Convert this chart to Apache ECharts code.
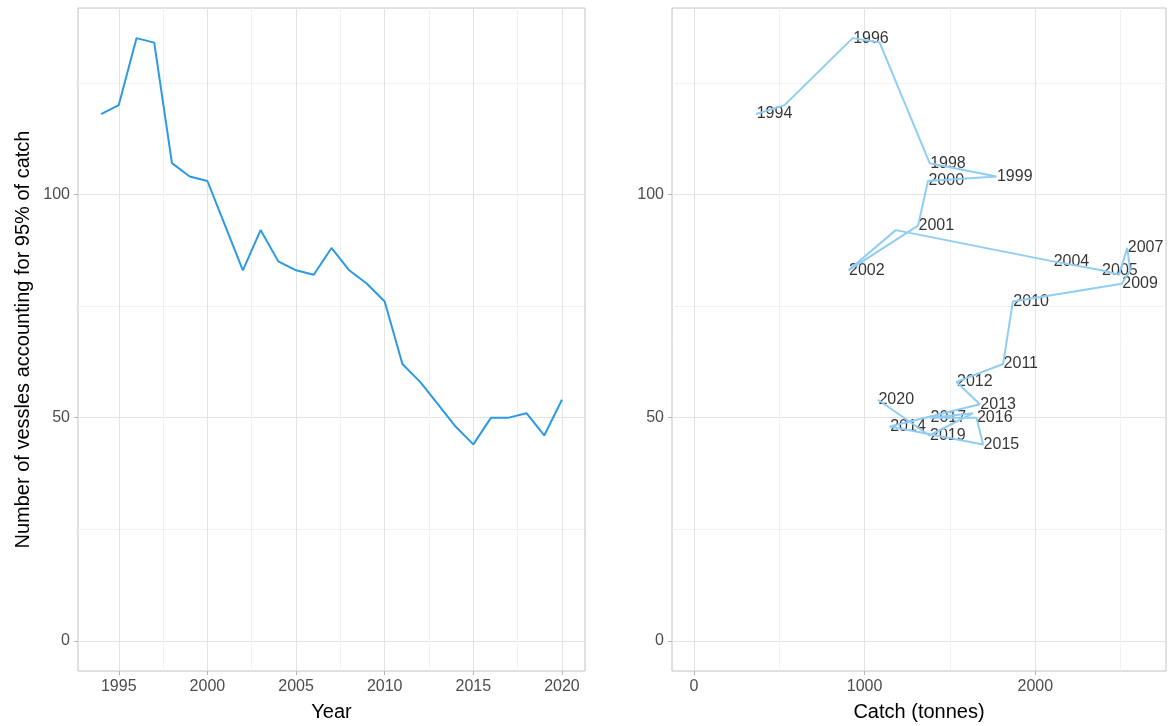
<!DOCTYPE html>
<html lang="en">
<head>
<meta charset="UTF-8">
<title>Vessels accounting for 95% of catch</title>
<script src="https://cdn.jsdelivr.net/npm/echarts@6/dist/echarts.min.js"></script>
<style>
  html, body { margin: 0; padding: 0; background: #fff; }
  #chart { width: 1170px; height: 726px; }
</style>
</head>
<body>
<div id="chart"></div>
<script>
// data
const years = [1994, 1995, 1996, 1997, 1998, 1999, 2000, 2001, 2002, 2003, 2004, 2005, 2006, 2007,
               2008, 2009, 2010, 2011, 2012, 2013, 2014, 2015, 2016, 2017, 2018, 2019, 2020];
const vessels = [118, 120, 135, 134, 107, 104, 103, 93, 83, 92, 85, 83, 82, 88,
                 83, 80, 76, 62, 58, 53, 48, 44, 50, 50, 51, 46, 54];
const catchTonnes = [365, 531, 930, 1088, 1381, 1772, 1371, 1313, 906, 1182, 2104, 2388, 2490, 2538,
                     2555, 2506, 1868, 1811, 1538, 1675, 1147, 1694, 1655, 1383, 1635, 1380, 1078];
// years whose label survives the overlap check in the original
const labelledYears = [1994, 1996, 1998, 1999, 2000, 2001, 2002, 2004, 2005, 2007, 2009, 2010,
                       2011, 2012, 2013, 2014, 2015, 2016, 2017, 2019, 2020];

const yearTicks = [1995, 2000, 2005, 2010, 2015, 2020];
const yearMinor = [1997.5, 2002.5, 2007.5, 2012.5, 2017.5];
const vesselTicks = [0, 50, 100];
const vesselMinor = [25, 75, 125];
const catchTicks = [0, 1000, 2000];
const catchMinor = [500, 1500, 2500];

const FONT = '"Liberation Sans", Arial, Helvetica, sans-serif';
const MAJOR = '#e3e3e3';
const MINOR = '#f1f1f1';
const BORDER = '#c2c2c2';

function majorAxis(grid, ticks, min, max, pos, extra) {
    return Object.assign({
        type: 'value', gridIndex: grid, min: min, max: max, position: pos,
        axisLine: { show: false, onZero: false },
        axisTick: { show: true, length: 4, lineStyle: { color: '#b3b3b3' }, customValues: ticks },
        axisLabel: {
            customValues: ticks, color: '#4d4d4d', fontSize: 16, fontFamily: FONT, margin: 8,
            formatter: v => String(v)
        },
        splitLine: { show: true, lineStyle: { color: MAJOR, width: 1 } },
        nameTextStyle: { color: '#000', fontSize: 20, fontFamily: FONT }
    }, extra || {});
}

// minor grid lines live on a second, label-less axis on the opposite side
function minorAxis(grid, ticks, min, max, pos) {
    return {
        type: 'value', gridIndex: grid, min: min, max: max, position: pos,
        axisLine: { show: false, onZero: false },
        axisTick: { show: false, customValues: ticks },
        axisLabel: { show: false, customValues: ticks },
        splitLine: { show: true, lineStyle: { color: MINOR, width: 1 } }
    };
}

const chart = echarts.init(document.getElementById('chart'));

const yMin = -6.75, yMax = 141.75;

chart.setOption({
    animation: false,
    backgroundColor: '#fff',
    grid: [
        { left: 78, right: 585, top: 8, bottom: 55, outerBoundsMode: 'none', containLabel: false,
          show: true, borderColor: BORDER, borderWidth: 1, backgroundColor: 'transparent' },
        { left: 672, right: 4, top: 8, bottom: 55, outerBoundsMode: 'none', containLabel: false,
          show: true, borderColor: BORDER, borderWidth: 1, backgroundColor: 'transparent' }
    ],
    xAxis: [
        minorAxis(0, yearMinor, 1992.7, 2021.3, 'top'),
        majorAxis(0, yearTicks, 1992.7, 2021.3, 'bottom', { name: 'Year', nameLocation: 'middle', nameGap: 31 }),
        minorAxis(1, catchMinor, -128, 2765, 'top'),
        majorAxis(1, catchTicks, -128, 2765, 'bottom', { name: 'Catch (tonnes)', nameLocation: 'middle', nameGap: 31 })
    ],
    yAxis: [
        minorAxis(0, vesselMinor, yMin, yMax, 'right'),
        majorAxis(0, vesselTicks, yMin, yMax, 'left', { name: 'Number of vessles accounting for 95% of catch', nameLocation: 'middle', nameGap: 45 }),
        minorAxis(1, vesselMinor, yMin, yMax, 'right'),
        majorAxis(1, vesselTicks, yMin, yMax, 'left')
    ],
    series: [
        {
            type: 'line',
            xAxisIndex: 1, yAxisIndex: 1,
            data: years.map((y, i) => [y, vessels[i]]),
            showSymbol: false,
            lineStyle: { color: '#2b9ae3', width: 2 },
            silent: true
        },
        {
            type: 'line',
            xAxisIndex: 3, yAxisIndex: 3,
            data: catchTonnes.map((c, i) => [c, vessels[i]]),
            showSymbol: false,
            lineStyle: { color: '#90cdf4', width: 2 },
            silent: true
        },
        {
            type: 'scatter',
            xAxisIndex: 3, yAxisIndex: 3,
            symbolSize: 1,
            itemStyle: { color: 'rgba(0,0,0,0)' },
            data: catchTonnes.map((c, i) => ({
                value: [c, vessels[i], years[i]],
                label: { show: labelledYears.indexOf(years[i]) >= 0 }
            })),
            label: {
                show: true,
                position: 'right', distance: 0,
                formatter: p => String(p.value[2]),
                color: '#000', fontSize: 16, fontFamily: FONT
            },
            labelLayout: { hideOverlap: false },
            silent: true
        }
    ]
});
</script>
</body>
</html>
